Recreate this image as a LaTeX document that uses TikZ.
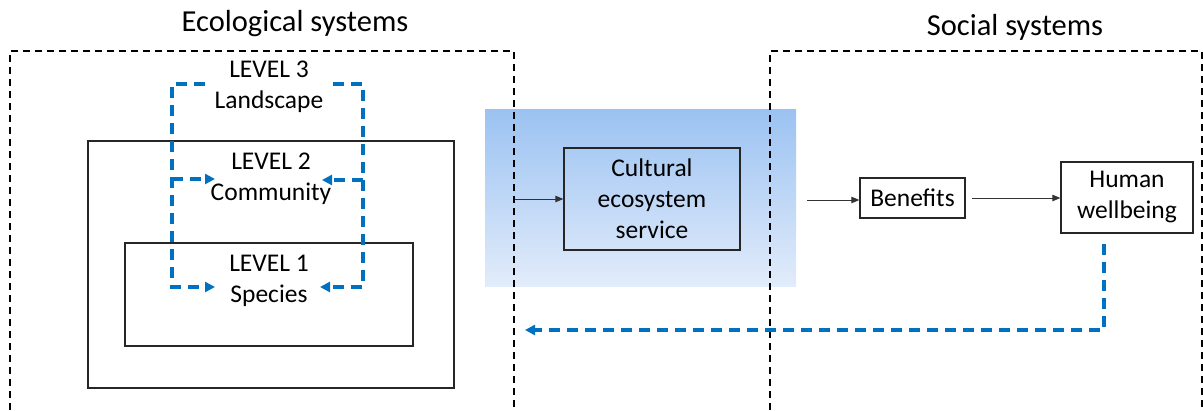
\documentclass[tikz,border=0pt]{standalone}
\usepackage{fontspec}
\setmainfont{Carlito}
\usetikzlibrary{arrows.meta,positioning}
\definecolor{lvlblue}{RGB}{0,112,192}
\definecolor{shadetop}{RGB}{155,194,242}
\definecolor{shadebot}{RGB}{226,236,250}

\begin{document}
\begin{tikzpicture}[x=1pt, y=-1pt, font=\fontsize{25.5}{31}\selectfont]

\tikzstyle{box} = [
    rectangle, draw=black!85, line width=1.3pt, inner sep=0pt, align=center]
\tikzstyle{system} = [
    rectangle, draw=black, line width=1.4pt, dash pattern=on 7pt off 5pt, inner sep=0pt]
\tikzstyle{level} = [align=center, inner sep=0pt]
\tikzstyle{loop} = [
    draw=lvlblue, line width=3.3pt, dash pattern=on 11pt off 7pt, -{Triangle[length=10pt,width=10pt]}]
\tikzstyle{flow} = [draw=black!80, line width=0.9pt, -{Triangle[length=8pt,width=6.5pt]}]

\useasboundingbox (0,0) rectangle (1203,410);

% shaded band behind the service
\node[rectangle, top color=shadetop, bottom color=shadebot, minimum width=311, minimum height=177, inner sep=0pt] at (640.5,197.5) (band) {};

% the two systems
\node[system, minimum width=504, minimum height=380] at (262,241) (ecobox) {};
\node[system, minimum width=432, minimum height=380] at (986,241) (socbox) {};
\node[font=\fontsize{30.5}{36}\selectfont] at (295,24) (ecotitle) {Ecological systems};
\node[font=\fontsize{30.5}{36}\selectfont] at (1015,27) (soctitle) {Social systems};

% levels
\node[box, minimum width=366, minimum height=247] at (271,264.5) (level2box) {};
\node[box, minimum width=288, minimum height=103] at (269,294.5) (level1box) {};
\node[level] at (269,87) (level3) {LEVEL 3\\Landscape};
\node[level] at (271,179) (level2) {LEVEL 2\\Community};
\node[level] at (269,281) (level1) {LEVEL 1\\Species};

\coordinate (lefttop) at (205,84);
\coordinate (righttop) at (333,84);
\coordinate (leftmid) at (172,179);
\coordinate (rightmid) at (363,180);
\coordinate (leftend2) at (215,179);
\coordinate (rightend2) at (322,180);
\coordinate (leftend1) at (215,287);
\coordinate (rightend1) at (320,287);

\draw[loop] (lefttop) -- (172,84) -- (172,287) -- (leftend1);
\draw[loop] (righttop) -- (363,84) -- (363,287) -- (rightend1);
\draw[loop] (leftmid) -- (leftend2);
\draw[loop] (rightmid) -- (rightend2);

% service chain
\node[box, minimum width=176, minimum height=102] at (652,199) (service) {Cultural\\ecosystem\\service};
\node[box, minimum width=105, minimum height=40] at (912.5,198) (benefits) {Benefits};
\node[box, minimum width=132, minimum height=71] at (1127,197.5) (wellbeing) {Human\\wellbeing};

\coordinate (benefitsin) at (807,200);
\coordinate (backtop) at (1104,244);
\coordinate (backend) at (525,330);

\draw[flow] (ecobox.east |- service.west) -- (service.west);
\draw[flow] (benefitsin) -- (benefits.west |- benefitsin);
\draw[flow] (972,198) -- (wellbeing.west |- 972,198);
\draw[loop] (backtop) -- (1104,330) -- (backend);

\end{tikzpicture}
\end{document}
